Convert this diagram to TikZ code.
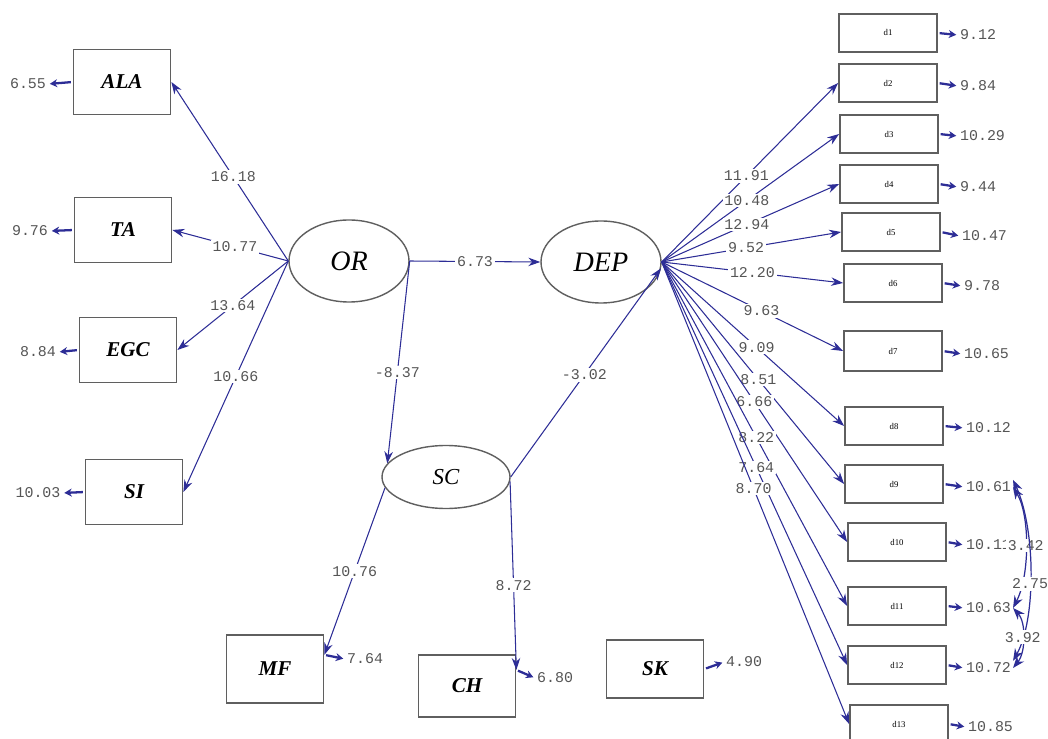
\documentclass[tikz,border=0pt]{standalone}
\usepackage{fontspec}
\setmainfont{Liberation Serif}
\setmonofont{Liberation Mono}
\usetikzlibrary{shapes.geometric,arrows.meta}
\definecolor{lisblue}{RGB}{45,45,150}
\definecolor{boxgray}{RGB}{95,95,95}
\definecolor{numgray}{RGB}{85,85,85}

\begin{document}
\begin{tikzpicture}[x=0.2mm,y=-0.2mm,
    obs/.style={draw=boxgray,line width=1pt,minimum width=19.4mm,minimum height=13mm,inner sep=0pt,font=\fontsize{12}{14}\selectfont\itshape\bfseries},
    ind/.style={draw=boxgray,line width=1pt,minimum width=19.6mm,minimum height=7.6mm,inner sep=0pt,font=\fontsize{5}{6}\selectfont},
    lat/.style={ellipse,draw=boxgray,line width=0.8pt,minimum width=24mm,minimum height=16.4mm,inner sep=0pt,font=\fontsize{16}{18}\selectfont\itshape},
    tval/.style={font=\fontsize{8.5}{10}\selectfont\ttfamily,text=numgray,fill=white,inner sep=1pt},
    arr/.style={lisblue,line width=0.6pt,-{Stealth[length=2.4mm,width=1.7mm]}},
    errarr/.style={lisblue,line width=1.3pt,shorten <=1pt,shorten >=1pt,-{Stealth[length=1.5mm,width=1.6mm]}},
    covarr/.style={lisblue,line width=0.7pt,{Stealth[length=2.4mm,width=1.8mm]}-{Stealth[length=2.4mm,width=1.8mm]}}]
    \useasboundingbox (0,0) rectangle (1048,739);

    % latent variables
    \node[lat] (OR) at (349,261) {OR};
    \node[lat] (DEP) at (601,262) {DEP};
    \node[lat,minimum width=25.6mm,minimum height=12.6mm,font=\fontsize{13}{15}\selectfont\itshape] (SC) at (446,477) {SC};

    % indicators of OR and SC
    \node[obs] (ALA) at (122,82) {ALA};
    \node[obs] (TA) at (123,230) {TA};
    \node[obs] (EGC) at (128,350) {EGC};
    \node[obs] (SI) at (134,492) {SI};
    \node[obs,minimum height=13.6mm] (MF) at (275,669) {MF};
    \node[obs,minimum height=12.4mm] (CH) at (467,686) {CH};
    \node[obs,minimum height=11.6mm] (SK) at (655,669) {SK};

    % indicators of DEP
    \node[ind] (d1) at (888,33) {d1};
    \node[ind] (d2) at (888,83) {d2};
    \node[ind] (d3) at (889,134) {d3};
    \node[ind] (d4) at (889,184) {d4};
    \node[ind] (d5) at (891,232) {d5};
    \node[ind] (d6) at (893,283) {d6};
    \node[ind,minimum height=8mm] (d7) at (893,351) {d7};
    \node[ind] (d8) at (894,426) {d8};
    \node[ind] (d9) at (894,484) {d9};
    \node[ind] (d10) at (897,542) {d10};
    \node[ind] (d11) at (897,606) {d11};
    \node[ind] (d12) at (897,665) {d12};
    \node[ind] (d13) at (899,724) {d13};

    % error variances
    \node[tval] (eALA) at (28,84) {6.55};
    \node[tval] (eTA) at (30,231) {9.76};
    \node[tval] (eEGC) at (38,352) {8.84};
    \node[tval] (eSI) at (38,493) {10.03};
    \node[tval,anchor=west] (eMF) at (345,659) {7.64};
    \node[tval,anchor=west] (eCH) at (535,678) {6.80};
    \node[tval,anchor=west] (eSK) at (724,662) {4.90};
    \node[tval,anchor=west] (e1) at (958,35) {9.12};
    \node[tval,anchor=west] (e2) at (958,86) {9.84};
    \node[tval,anchor=west] (e3) at (958,136) {10.29};
    \node[tval,anchor=west] (e4) at (958,187) {9.44};
    \node[tval,anchor=west] (e5) at (960,236) {10.47};
    \node[tval,anchor=west] (e6) at (962,286) {9.78};
    \node[tval,anchor=west] (e7) at (962,354) {10.65};
    \node[tval,anchor=west] (e8) at (964,428) {10.12};
    \node[tval,anchor=west] (e9) at (964,487) {10.61};
    \node[tval,anchor=west] (e10) at (964,545) {10.11};
    \node[tval,anchor=west] (e11) at (964,608) {10.63};
    \node[tval,anchor=west] (e12) at (964,668) {10.72};
    \node[tval,anchor=west] (e13) at (966,727) {10.85};

    \draw[errarr] (ALA.west) -- (eALA.east);
    \draw[errarr] (TA.west) -- (eTA.east);
    \draw[errarr] (EGC.west) -- (eEGC.east);
    \draw[errarr] (SI.west) -- (eSI.east);
    \draw[errarr] (MF.16) -- (eMF.west);
    \draw[errarr] (CH.18) -- (eCH.west);
    \draw[errarr] (SK.east) -- (eSK.west);
    \draw[errarr] (d1.east) -- (e1.west);
    \draw[errarr] (d2.east) -- (e2.west);
    \draw[errarr] (d3.east) -- (e3.west);
    \draw[errarr] (d4.east) -- (e4.west);
    \draw[errarr] (d5.east) -- (e5.west);
    \draw[errarr] (d6.east) -- (e6.west);
    \draw[errarr] (d7.east) -- (e7.west);
    \draw[errarr] (d8.east) -- (e8.west);
    \draw[errarr] (d9.east) -- (e9.west);
    \draw[errarr] (d10.east) -- (e10.west);
    \draw[errarr] (d11.east) -- (e11.west);
    \draw[errarr] (d12.east) -- (e12.west);
    \draw[errarr] (d13.east) -- (e13.west);

    % loadings of OR
    \draw[arr] (OR.west) -- node[tval,pos=.47]{16.18} (ALA.east);
    \draw[arr] (OR.west) -- node[tval,pos=.46]{10.77} (TA.east);
    \draw[arr] (OR.west) -- node[tval,pos=.5]{13.64} (EGC.east);
    \draw[arr] (OR.west) -- node[tval,pos=.5]{10.66} (SI.east);

    % structural paths
    \draw[arr] (OR.east) -- node[tval,pos=.5]{6.73} (DEP.west);
    \draw[arr] (OR.east) -- node[tval,pos=.55]{-8.37} (SC.167);
    \draw[arr] (SC.east) -- node[tval,pos=.49]{-3.02} (DEP.-6);

    % loadings of SC
    \draw[arr] (SC.190) -- node[tval,pos=.5]{10.76} (MF.16);
    \draw[arr] (SC.-4) -- node[tval,pos=.55]{8.72} (CH.18);

    % loadings of DEP
    \draw[arr] (DEP.east) -- node[tval,pos=.48]{11.91} (d2.west);
    \draw[arr] (DEP.east) -- node[tval,pos=.48]{10.48} (d3.west);
    \draw[arr] (DEP.east) -- node[tval,pos=.48]{12.94} (d4.west);
    \draw[arr] (DEP.east) -- node[tval,pos=.47]{9.52} (d5.west);
    \draw[arr] (DEP.east) -- node[tval,pos=.5]{12.20} (d6.west);
    \draw[arr] (DEP.east) -- node[tval,pos=.55]{9.63} (d7.west);
    \draw[arr] (DEP.east) -- node[tval,pos=.52]{9.09} (d8.west);
    \draw[arr] (DEP.east) -- node[tval,pos=.53]{8.51} (d9.west);
    \draw[arr] (DEP.east) -- node[tval,pos=.5]{6.66} (d10.west);
    \draw[arr] (DEP.east) -- node[tval,pos=.51]{8.22} (d11.west);
    \draw[arr] (DEP.east) -- node[tval,pos=.51]{7.64} (d12.west);
    \draw[arr] (DEP.east) -- node[tval,pos=.49]{8.70} (d13.west);

    % error covariances
    \draw[covarr] (e9.east) .. controls (1030,515) and (1030,575) .. node[tval,pos=.5]{3.42} (e11.east);
    \draw[covarr] (e9.north east) .. controls (1036,530) and (1036,620) .. node[tval,pos=.55]{2.75} (e12.north east);
    \draw[covarr] (e11.east) .. controls (1026,622) and (1026,652) .. node[tval,pos=.5]{3.92} (e12.east);
\end{tikzpicture}
\end{document}
